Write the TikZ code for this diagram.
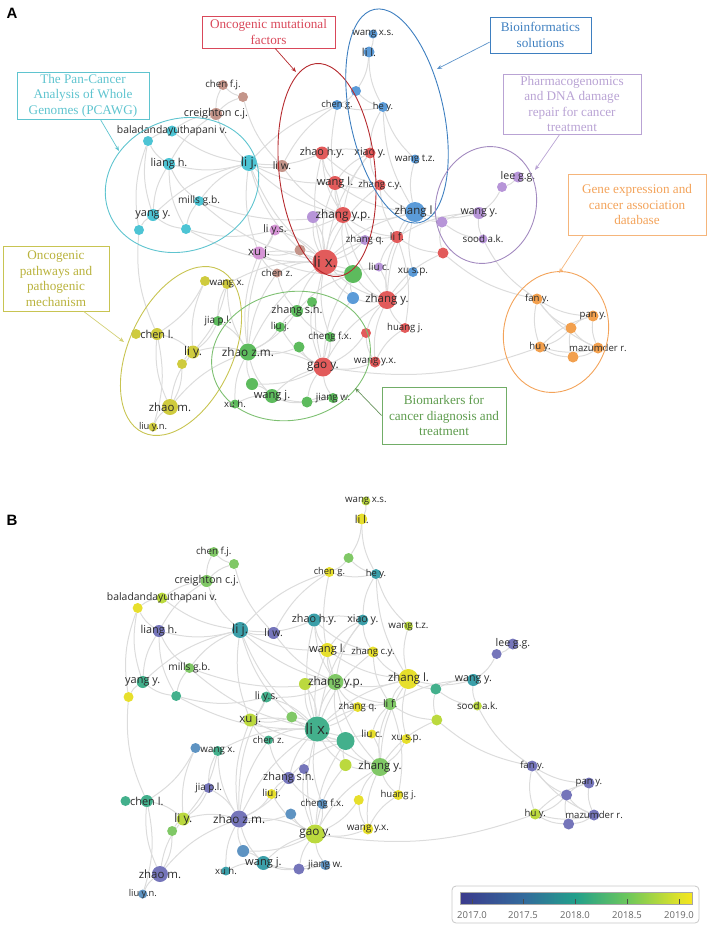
\documentclass[tikz,border=0pt]{standalone}
\usepackage{fontspec}
\setmainfont{Liberation Serif}
\newfontfamily\lblfont{Open Sans}
\newfontfamily\letterfont{Liberation Sans}
\usetikzlibrary{arrows.meta}

\pgfdeclarelayer{links}
\pgfsetlayers{links,main}

% cluster colours (A)
\definecolor{cRed}{HTML}{E25B5B}
\definecolor{cGreen}{HTML}{5DBB5D}
\definecolor{cBlue}{HTML}{5B9BD8}
\definecolor{cOlive}{HTML}{CFCB3E}
\definecolor{cPurple}{HTML}{B795D8}
\definecolor{cPink}{HTML}{D695D6}
\definecolor{cCyan}{HTML}{4DC4D4}
\definecolor{cOrange}{HTML}{F2A04E}
\definecolor{cBrown}{HTML}{C4958A}
% year colours (B)
\definecolor{vA}{HTML}{7575BA}
\definecolor{vB}{HTML}{5E93C2}
\definecolor{vC}{HTML}{3B9FA9}
\definecolor{vD}{HTML}{43B08C}
\definecolor{vE}{HTML}{80C866}
\definecolor{vF}{HTML}{BBD93E}
\definecolor{vG}{HTML}{E7DF2C}
% annotation colours
\definecolor{tRed}{HTML}{D9485A}
\definecolor{eRed}{HTML}{B52A2E}
\definecolor{tBlue}{HTML}{3E7FC0}
\definecolor{tCyan}{HTML}{5FC4CF}
\definecolor{tLav}{HTML}{B9A3D4}
\definecolor{eLav}{HTML}{A38BC0}
\definecolor{tOrange}{HTML}{F3A35A}
\definecolor{tOlive}{HTML}{B9B23C}
\definecolor{eOlive}{HTML}{C8C452}
\definecolor{tGreen}{HTML}{5E9C4E}
\definecolor{eGreen}{HTML}{7EC072}
\definecolor{lnk}{HTML}{DCDCDC}
\definecolor{lbltext}{HTML}{2A2A2A}
\definecolor{legbord}{HTML}{C8C8C8}
% colour bar
\definecolor{y0}{HTML}{3B3A8C}
\definecolor{y1}{HTML}{336A9C}
\definecolor{y2}{HTML}{229F8B}
\definecolor{y3}{HTML}{6CC75C}
\definecolor{y4}{HTML}{DDE22A}
\definecolor{y5}{HTML}{F5E51E}
\pgfdeclarehorizontalshading{years}{100bp}{color(0bp)=(y0); color(25bp)=(y0); color(38.6bp)=(y1); color(49.8bp)=(y2); color(61bp)=(y3); color(72bp)=(y4); color(75bp)=(y5); color(100bp)=(y5)}

% name / x / y / radius / cluster colour / year colour
\def\nodelist{%
chenfj/223/85/5/cBrown/vE,
u1/243/97/5/cBrown/vE,
creighton/216/114/6/cBrown/vE,
bala/172/131/5.5/cCyan/vF,
u2/148/141/5/cCyan/vG,
liangh/169/164/6/cCyan/vA,
lij/249/163/8/cCyan/vC,
liw/282/166/6/cBrown/vA,
mills/199/201/5/cCyan/vE,
yangy/153/215/6/cCyan/vD,
u3/139/230/5/cCyan/vG,
u4/186/229/5/cCyan/vD,
cheng/337/105/5/cBlue/vG,
u5/356/91/5/cBlue/vE,
wangxs/373/34/4.5/cBlue/vF,
lil/369/52/5.5/cBlue/vG,
hey/383/107/5/cBlue/vC,
xiaoy/370/153/5.5/cRed/vC,
wangtz/415/159/4.5/cBlue/vF,
zhaohy/322/153/6.5/cRed/vC,
wangl/335/183/7/cRed/vG,
zhangcy/380/185/5.5/cRed/vG,
zhangl/415/212/10/cBlue/vG,
u6/313/217/6/cPurple/vF,
zhangyp/343/215/8/cRed/vE,
leegg/518/177/5.5/cPurple/vA,
u7/502/187/5/cPurple/vA,
wangy/479/213/6/cPurple/vC,
u8/442/222/5.5/cPurple/vD,
zhangq/365/240/5/cPurple/vG,
lif/397/237/6/cRed/vE,
sood/483/239/4.5/cPurple/vF,
u9/443/253/5.5/cRed/vF,
liuc/379/267/4.5/cPurple/vG,
xusp/413/272/5/cBlue/vG,
lix/325/262/12.5/cRed/vD,
liys/275/230/5.5/cPink/vD,
xuj/259/253/6.5/cPink/vF,
u10/300/250/5.5/cBrown/vE,
chenz/277/273/4.5/cBrown/vD,
u11/353/274/9/cGreen/vD,
u12/205/281/5/cOlive/vB,
wangx/227/284/5/cOlive/vD,
u13/353/298/6/cBlue/vF,
u14/312/302/5/cGreen/vA,
zhangsh/297/311/6/cGreen/vA,
jiapl/218/321/5/cGreen/vA,
liuj/280/327/5/cGreen/vG,
chenl/157/334/6/cOlive/vD,
u15/136/334/5/cOlive/vD,
chengfx/330/337/5/cGreen/vB,
liy/193/352/6.5/cOlive/vF,
zhaozm/248/352/8.5/cGreen/vA,
u16/299/347/5.5/cGreen/vB,
u17/182/364/5/cOlive/vE,
gaoy/323/367/9.5/cRed/vF,
u18/252/384/6/cGreen/vB,
wangj/272/396/7/cGreen/vC,
xuh/235/404/4.5/cGreen/vC,
u19/307/402/5.5/cGreen/vA,
jiangw/333/398/5/cGreen/vB,
zhaom/170/407/8/cOlive/vA,
liuyn/153/427/4.5/cOlive/vB,
zhangy/387/300/9/cRed/vE,
huangj/405/328/5/cRed/vG,
u20/366/333/5/cRed/vG,
wangyx/375/362/5.5/cRed/vG,
fany/537/299/5.5/cOrange/vA,
pany/593/316/5.5/cOrange/vA,
u21/571/328/5.5/cOrange/vA,
huy/540/347/5.5/cOrange/vF,
mazumder/598/348/5.5/cOrange/vA,
u22/573/357/5.5/cOrange/vA}

% name / label / font size
\def\labellist{%
chenfj/chen f.j./9.3, creighton/creighton c.j./10.4, bala/baladandayuthapani v./10,
liangh/liang h./10.5, lij/li j./12, liw/li w./10, mills/mills g.b./9.8, yangy/yang y./10.5,
cheng/chen g./9, wangxs/wang x.s./9.3, lil/li l./10.5, hey/he y./9, xiaoy/xiao y./10.2,
wangtz/wang t.z./9.4, zhaohy/zhao h.y./10.4, wangl/wang l./10.7, zhangcy/zhang c.y./9.2,
zhangl/zhang l./11, zhangyp/zhang y.p./11.3, leegg/lee g.g./10.2, wangy/wang y./10.2,
zhangq/zhang q./9.3, lif/li f./10, sood/sood a.k./9.4, liuc/liu c./9.5, xusp/xu s.p./9.6,
lix/li x./14.5, liys/li y.s./10, xuj/xu j./11, chenz/chen z./9.2, wangx/wang x./9.4,
zhangsh/zhang s.h./10.5, jiapl/jia p.l./9.5, liuj/liu j./9.3, chenl/chen l./10.5,
chengfx/cheng f.x./9.3, liy/li y./11.5, zhaozm/zhao z.m./11.3, gaoy/gao y./11.3,
wangj/wang j./10.7, xuh/xu h./9.2, jiangw/jiang w./9.5, zhaom/zhao m./11, liuyn/liu y.n./9,
zhangy/zhang y./11, huangj/huang j./9.2, wangyx/wang y.x./9.5, fany/fan y./9.2,
pany/pan y./9.2, huy/hu y./9.2, mazumder/mazumder r./9.2}

% co-authorship links
\def\linklist{%
chenfj/creighton, u1/creighton, u1/liw, chenfj/u1, creighton/bala, creighton/lij,
creighton/liangh, bala/u2, bala/lij, u2/liangh, u2/yangy, u2/u3, liangh/lij, liangh/mills,
liangh/yangy, liangh/u4, lij/liw, lij/zhaohy, lij/wangl, lij/lix, lij/mills, lij/zhangyp,
lij/xuj, lij/yangy, mills/u4, mills/lix, mills/zhangyp, yangy/u3, yangy/u4, u3/chenl,
u4/liys, u4/lix, cheng/u5, cheng/hey, cheng/liw, cheng/zhangyp, cheng/lij, u5/lil,
lil/wangxs, lil/hey, u5/hey, hey/wangtz, hey/xiaoy, hey/zhangl, wangtz/zhangl,
xiaoy/zhaohy, xiaoy/wangl, xiaoy/zhangyp, xiaoy/zhangcy, xiaoy/lix, zhaohy/wangl,
zhaohy/zhangyp, zhaohy/lix, zhaohy/zhangcy, wangl/zhangyp, wangl/lix, wangl/zhangcy,
wangl/zhangl, zhangcy/zhangl, zhangcy/lix, zhangcy/lif, zhangyp/lix, zhangyp/u6,
zhangyp/zhangl, zhangyp/zhangq, zhangyp/lif, zhangyp/u11, zhangyp/zhangy, zhangl/lif,
zhangl/u8, zhangl/wangy, zhangl/zhangy, zhangl/xusp, zhangl/lix, wangy/u7, u7/leegg,
wangy/u8, wangy/sood, u8/sood, u8/u9, wangy/lif, lif/lix, lif/u9, lif/zhangy, lif/liuc,
u9/fany, u9/zhangy, sood/fany, fany/pany, fany/huy, fany/u21, fany/mazumder,
pany/mazumder, pany/u21, pany/huy, huy/mazumder, huy/u22, u21/u22, u22/mazumder,
u21/mazumder, huy/u21, gaoy/huy, lix/xuj, lix/liys, lix/chenz, lix/u11, lix/zhangy,
lix/gaoy, lix/zhangsh, lix/zhaozm, lix/u10, lix/liuc, lix/zhangq, lix/wangx, lix/chengfx,
lix/u13, lix/u6, xuj/liys, xuj/u10, xuj/chenz, xuj/zhaozm, u11/zhangy, u11/gaoy,
u11/zhangsh, u11/u13, zhangy/huangj, zhangy/u20, zhangy/wangyx, zhangy/gaoy,
zhangy/xusp, zhangy/liuc, gaoy/wangyx, gaoy/u20, gaoy/chengfx, gaoy/jiangw, gaoy/u19,
gaoy/zhaozm, gaoy/wangj, zhaozm/wangj, zhaozm/u18, zhaozm/xuh, zhaozm/jiapl,
zhaozm/liuj, zhaozm/zhangsh, zhaozm/u16, zhaozm/liy, zhaozm/zhaom, wangj/u18,
wangj/jiangw, wangj/xuh, wangj/u19, jiangw/u19, zhangsh/u14, zhangsh/liuj,
zhangsh/chengfx, liy/chenl, liy/u17, liy/wangx, liy/zhaom, liy/jiapl, chenl/u15,
chenl/zhaom, chenl/u12, u12/wangx, wangx/jiapl, zhaom/liuyn, zhaom/u17, liuyn/chenl,
huangj/wangyx, u20/wangyx, huangj/lif, u13/zhangy, u13/gaoy, chenz/zhangsh,
lij/u10, liw/zhangyp, liys/zhangyp, u6/lix, xuj/u11, u10/u11, chenz/zhaozm, wangx/zhaozm,
u14/gaoy, u16/gaoy, u18/gaoy, liuj/gaoy, u12/liy, liys/zhaozm}

\begin{document}
\begin{tikzpicture}[x=1pt,y=1pt,yscale=-1,
  dot/.style={circle, inner sep=0pt, draw=none},
  lbl/.style={inner sep=0pt, text=lbltext},
  link/.style={draw=lnk, line width=1pt},
  annot/.style={draw, line width=0.8pt, align=center, inner sep=2pt, font=\fontsize{13.2}{15.5}\selectfont},
  pointer/.style={line width=0.7pt, -{Stealth[length=5pt,width=4pt]}},
  panel/.style={font=\letterfont\bfseries\fontsize{15}{15}\selectfont}]
\useasboundingbox (0,0) rectangle (708,926);

%%%%%%%% Panel A : clusters
\node [panel] (pA) at (12,13) {A};
\foreach \nd/\x/\y/\rad/\ca/\cb in \nodelist
  \node [dot, fill=\ca, minimum size=\rad*2pt] (a\nd) at (\x,\y) {};
\begin{pgfonlayer}{links}
\foreach \p/\q in \linklist
  \draw [link] (a\p) to[bend left=14] (a\q);
\end{pgfonlayer}
\foreach \nd/\txt/\fs in \labellist {
  \pgfmathsetmacro\fss{\fs*1.04}
  \node [lbl, font=\lblfont\fontsize{\fss}{\fss}\selectfont] (a\nd-t) at (a\nd) {\txt};
}

%Shape: Ellipse [oncogenic mutational factors]
\draw [eRed, line width=0.9] [rotate around={-6:(327,170)}] (327,170) ellipse (48 and 107);
%Shape: Ellipse [bioinformatics]
\draw [tBlue, line width=0.9] [rotate around={-12:(397,116)}] (397,116) ellipse (47 and 109);
%Shape: Ellipse [PCAWG]
\draw [tCyan, line width=0.9] [rotate around={-20:(182,185)}] (182,185) ellipse (78 and 66);
%Shape: Ellipse [pharmacogenomics]
\draw [eLav, line width=0.9] [rotate around={15:(486,205)}] (486,205) ellipse (50 and 59);
%Shape: Ellipse [gene expression]
\draw [tOrange, line width=0.9] [rotate around={15:(556,332)}] (556,332) ellipse (52 and 61);
%Shape: Ellipse [pathways]
\draw [eOlive, line width=0.9] [rotate around={25:(181,351)}] (181,351) ellipse (52 and 90);
%Shape: Ellipse [biomarkers]
\draw [eGreen, line width=0.9] [rotate around={-12:(291,356)}] (291,356) ellipse (80 and 64);

% Text Node
\node [annot, draw=tRed, text=tRed, minimum width=133, minimum height=32] (boxmut) at (268.5,32) {Oncogenic mutational\\factors};
% Text Node
\node [annot, draw=tBlue, text=tBlue, minimum width=101, minimum height=36] (boxbio) at (540.5,35) {Bioinformatics\\solutions};
% Text Node
\node [annot, draw=tCyan, text=tCyan, minimum width=132, minimum height=47] (boxpcawg) at (83,95.5) {The Pan-Cancer\\Analysis of Whole\\Genomes (PCAWG)};
% Text Node
\node [annot, draw=tLav, text=tLav, minimum width=138, minimum height=60] (boxpharm) at (572,104) {Pharmacogenomics\\and DNA damage\\repair for cancer\\treatment};
% Text Node
\node [annot, draw=tOrange!80, text=tOrange, minimum width=138, minimum height=61] (boxgene) at (637,204.5) {Gene expression and\\cancer association\\database};
% Text Node
\node [annot, draw=eOlive, text=tOlive, minimum width=106, minimum height=65] (boxpath) at (56,278.5) {Oncogenic\\pathways and\\pathogenic\\mechanism};
% Text Node
\node [annot, draw=eGreen!90!black, text=tGreen, minimum width=124, minimum height=57] (boxbiom) at (444,415.5) {Biomarkers for\\cancer diagnosis and\\treatment};

%Straight Lines [pointers]
\coordinate (tipmut) at (296,72);
\coordinate (tipbio) at (437,69);
\coordinate (tippcawg) at (119,151);
\coordinate (tippharm) at (535,170);
\coordinate (tipgene) at (559,273);
\coordinate (tippath) at (124,342);
\coordinate (tipbiom) at (355,388);
\draw [pointer, eRed] (boxmut.-68) -- (tipmut);
\draw [pointer, tBlue!85] (boxbio.188) -- (tipbio);
\draw [pointer, tCyan] (boxpcawg.-54) -- (tippcawg);
\draw [pointer, tLav] (boxpharm.248) -- (tippharm);
\draw [pointer, tOrange!80] (boxgene.210) -- (tipgene);
\draw [pointer, eOlive!80] (boxpath.-50) -- (tippath);
\draw [pointer, tGreen!70!gray] (boxbiom.180) -- (tipbiom);

%%%%%%%% Panel B : average publication year
\node [panel] (pB) at (12,520) {B};
\begin{scope}[shift={(-12.4,467)}, xscale=1.014]
\foreach \nd/\x/\y/\rad/\ca/\cb in \nodelist
  \node [dot, fill=\cb, minimum size=\rad*2pt] (b\nd) at (\x,\y) {};
\begin{pgfonlayer}{links}
\foreach \p/\q in \linklist
  \draw [link] (b\p) to[bend left=14] (b\q);
\end{pgfonlayer}
\foreach \nd/\txt/\fs in \labellist {
  \pgfmathsetmacro\fss{\fs*1.04}
  \node [lbl, font=\lblfont\fontsize{\fss}{\fss}\selectfont] (b\nd-t) at (b\nd) {\txt};
}
\end{scope}

% colour bar
\draw [draw=legbord, fill=white, rounded corners=4, line width=0.8] (452,886) rectangle (699,923);
\shade [shading=years] (460,892) rectangle (692,904);
\draw [gray!70, line width=0.4] (460,892) rectangle (692,904);
\foreach \yr/\px in {2017.0/472, 2017.5/523, 2018.0/575, 2018.5/627, 2019.0/679} {
  \draw [gray!60!black, line width=0.6] (\px,899) -- (\px,904);
  \node [lbl, text=gray!80!black, font=\lblfont\fontsize{9.5}{9.5}\selectfont] (yr\px) at (\px,915) {\yr};
}
\end{tikzpicture}
\end{document}
